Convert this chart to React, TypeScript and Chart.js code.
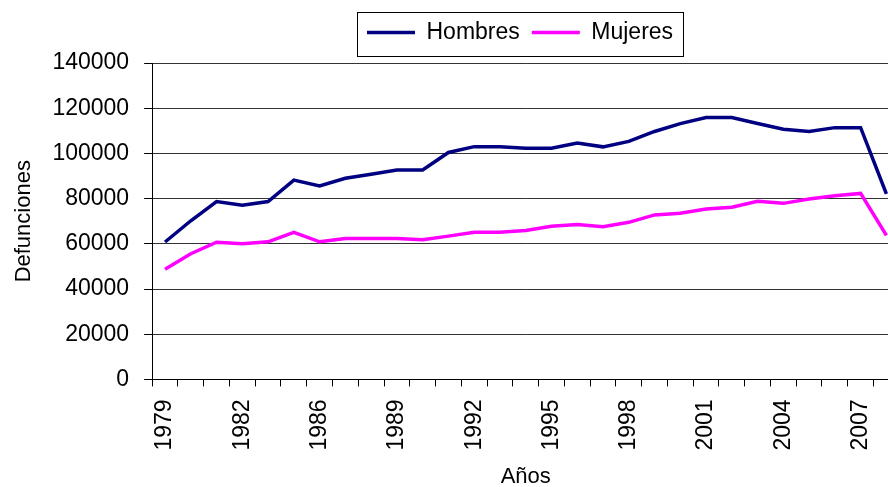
import React, { useEffect, useRef } from "react";
import { Chart, registerables } from "chart.js";

Chart.register(...registerables);

const years: string[] = [
  "1979", "1980", "1981", "1982", "1984", "1985", "1986", "1987", "1988", "1989",
  "1990", "1991", "1992", "1993", "1994", "1995", "1996", "1997", "1998", "1999",
  "2000", "2001", "2002", "2003", "2004", "2005", "2006", "2007", "2008",
];

const hombres: number[] = [
  60800, 70200, 78700, 77100, 78700, 88200, 85600, 89000, 90750, 92650,
  92650, 100400, 103000, 103000, 102300, 102300, 104600, 102900, 105300, 109700,
  113200, 115900, 115900, 113200, 110700, 109700, 111400, 111400, 82100,
];

const mujeres: number[] = [
  48700, 55600, 60700, 60000, 60900, 65100, 60900, 62300, 62300, 62300,
  61800, 63400, 65100, 65100, 65900, 67800, 68500, 67600, 69500, 72800,
  73500, 75400, 76200, 78800, 77900, 79800, 81300, 82300, 63700,
];

const seriesNames = ["Hombres", "Mujeres"];
const yTicksMax = 140000;
const yStep = 20000;
const labelEvery = 3;

const FONT = "'Liberation Sans', Arial, Helvetica, sans-serif";

const legendFrame = {
  id: "legendFrame",
  afterLayout(chart: any) {
    const lg: any = chart.legend;
    if (!lg || !lg.lineWidths) return;
    const pad = lg.options.labels.padding;
    const rowStart = (lg.left + pad + lg.right - lg.lineWidths[0]) / 2;
    const dx = 367 - rowStart;
    lg.left += dx;
    lg.right += dx;
    lg.top -= 9;
    lg.bottom -= 9;
  },
  afterDraw(chart: any) {
    const lg: any = chart.legend;
    if (!lg || !lg.legendHitBoxes || !lg.legendHitBoxes.length) return;
    const hb = lg.legendHitBoxes;
    const first = hb[0];
    const last = hb[hb.length - 1];
    const ctx = chart.ctx;
    ctx.save();
    ctx.strokeStyle = "#000";
    ctx.lineWidth = 1;
    const x1 = Math.round(first.left - 10) + 0.5;
    const x2 = Math.round(last.left + last.width + 10) + 0.5;
    const y1 = Math.round(lg.top + 3) + 0.5;
    const y2 = Math.round(lg.top + 47) + 0.5;
    ctx.strokeRect(x1, y1, x2 - x1, y2 - y1);
    ctx.restore();
  },
};

export default function App() {
  const ref = useRef<HTMLCanvasElement | null>(null);

  useEffect(() => {
    const canvas = ref.current;
    if (!canvas) return;
    const chart = new Chart(canvas, {
      type: "line",
      data: {
        labels: years,
        datasets: [
          {
            label: seriesNames[0],
            data: hombres,
            borderColor: "#000080",
            backgroundColor: "#000080",
            borderWidth: 3.5,
            pointRadius: 0,
            tension: 0,
          },
          {
            label: seriesNames[1],
            data: mujeres,
            borderColor: "#FF00FF",
            backgroundColor: "#FF00FF",
            borderWidth: 3.5,
            pointRadius: 0,
            tension: 0,
          },
        ],
      },
      options: {
        responsive: false,
        animation: false,
        devicePixelRatio: 1,
        events: [],
        layout: { padding: { top: 18, left: 0, right: 0, bottom: -3 } },
        plugins: {
          tooltip: { enabled: false },
          legend: {
            display: true,
            position: "top",
            labels: {
              usePointStyle: true,
              pointStyle: "line",
              pointStyleWidth: 48,
              boxWidth: 48,
              padding: 12,
              color: "#000",
              font: { family: FONT, size: 23 },
            },
          },
        },
        scales: {
          x: {
            type: "category",
            offset: true,
            grid: {
              display: true,
              drawOnChartArea: false,
              drawTicks: true,
              offset: true,
              tickLength: 7,
              color: "#000",
              tickColor: "#000",
            },
            border: { display: true, color: "#000", width: 1 },
            ticks: {
              autoSkip: false,
              maxRotation: 90,
              minRotation: 90,
              padding: 13,
              color: "#000",
              font: { family: FONT, size: 23 },
              callback: (_v: any, i: number) => (i % labelEvery === 0 ? years[i] : ""),
            },
            title: {
              display: true,
              text: "Años",
              color: "#000",
              font: { family: FONT, size: 22 },
              padding: { top: 0, bottom: 0 },
            },
          },
          y: {
            min: 0,
            max: yTicksMax,
            grid: {
              color: "#333",
              tickColor: "#000",
              tickLength: 8,
              lineWidth: 1,
            },
            border: { display: true, color: "#000", width: 1 },
            ticks: {
              stepSize: yStep,
              padding: 15,
              color: "#000",
              font: { family: FONT, size: 23 },
              callback: (v: any) => String(v),
            },
            title: {
              display: true,
              text: "Defunciones",
              color: "#000",
              font: { family: FONT, size: 22 },
              padding: { top: 11, bottom: 0 },
            },
          },
        },
      },
      plugins: [legendFrame],
    });
    return () => chart.destroy();
  }, []);

  return (
    <div
      style={{
        position: "fixed",
        left: 0,
        top: 0,
        width: 888,
        height: 487,
        overflow: "hidden",
        background: "#fff",
      }}
    >
      <canvas ref={ref} width={927} height={487} style={{ display: "block", width: 927, height: 487 }} />
    </div>
  );
}
